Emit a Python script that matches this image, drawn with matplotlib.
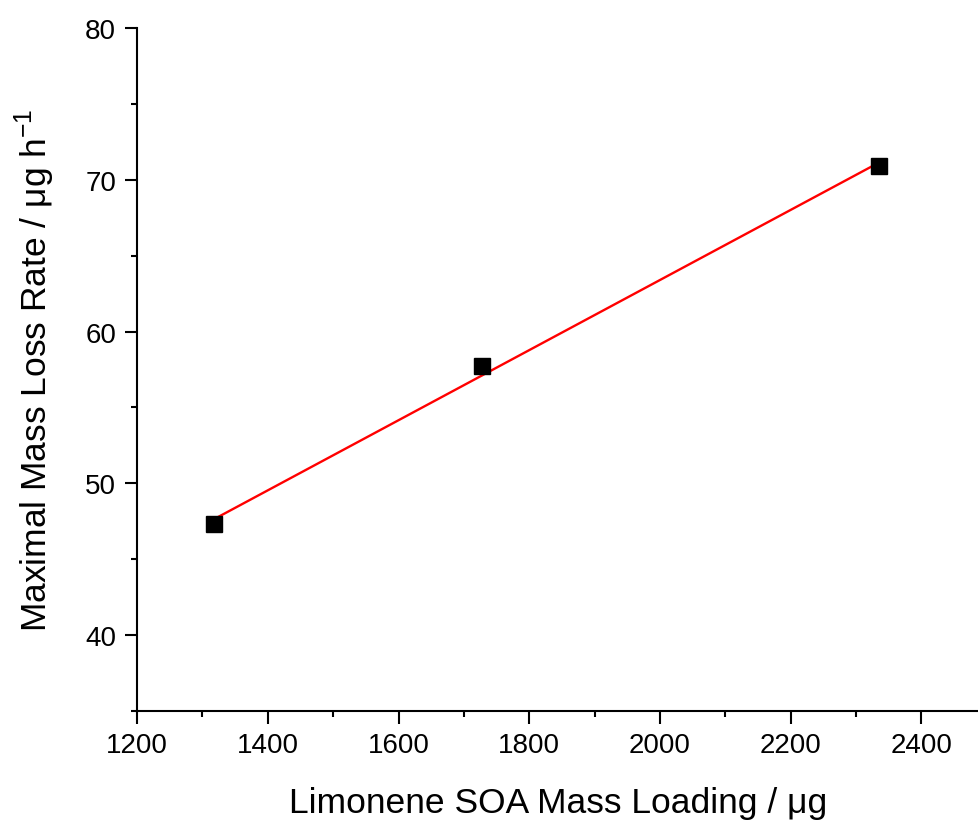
import numpy as np
import matplotlib
matplotlib.use("Agg")
import matplotlib.pyplot as plt
from matplotlib.ticker import MultipleLocator

plt.rcParams['font.family'] = ['Liberation Sans', 'DejaVu Sans']
plt.rcParams['mathtext.fontset'] = 'custom'
plt.rcParams['mathtext.rm'] = 'Liberation Sans'

mass_loading = [1318, 1728, 2335]
loss_rate = [47.3, 57.7, 70.9]

fig = plt.figure(figsize=(9.79, 8.28), dpi=100)
ax = fig.add_axes([0.140, 0.140, 0.860, 0.825])

slope, intercept = np.polyfit(mass_loading, loss_rate, 1)
xf = np.array([min(mass_loading), max(mass_loading)])
ax.plot(xf, slope * xf + intercept, color='red', lw=1.7, zorder=2)
ax.plot(mass_loading, loss_rate, 's', color='black', ms=11, zorder=3)

ax.set_xlim(1200, 2488)
ax.set_ylim(35, 80)
ax.xaxis.set_major_locator(MultipleLocator(200))
ax.xaxis.set_minor_locator(MultipleLocator(100))
ax.yaxis.set_minor_locator(MultipleLocator(5))
ax.set_yticks([40, 50, 60, 70, 80])

for s in ['top', 'right']:
    ax.spines[s].set_visible(False)
for s in ['left', 'bottom']:
    ax.spines[s].set_linewidth(1.5)

ax.tick_params(which='major', direction='out', length=9, width=1.5, labelsize=20, pad=6)
ax.tick_params(which='minor', direction='out', length=4.5, width=1.5)

ax.set_xlabel('Limonene SOA Mass Loading / \u03bcg', fontsize=25.5, labelpad=20)
ax.set_ylabel('Maximal Mass Loss Rate / \u03bcg h$^{\\mathregular{-1}}$', fontsize=25.5, labelpad=20)

fig.savefig('out.png', dpi=100)
